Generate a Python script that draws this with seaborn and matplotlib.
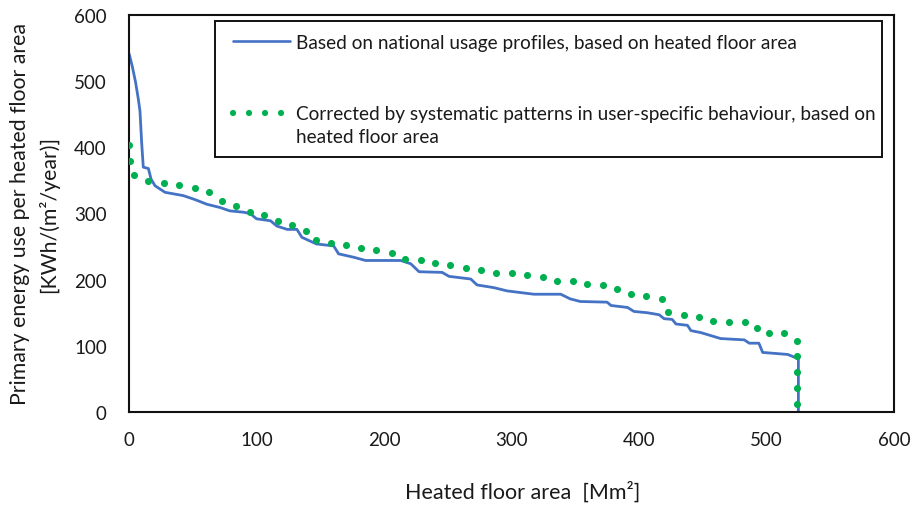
import numpy as np
import matplotlib
matplotlib.use("Agg")
import matplotlib.pyplot as plt
from matplotlib.lines import Line2D
import seaborn as sns

# ---- data ----
blue_x = [0, 2.5, 5.2, 7.3, 8.6, 9.9, 11.2, 15.2, 17.3, 20.4,
          24.3, 28.3, 42.6, 51.8, 61, 71.5, 79, 89.5, 95, 100,
          111, 116, 124, 131.7, 135.6, 147, 160.5, 164.4, 176, 185.5,
          213, 221, 227.5, 245.6, 251, 268, 273, 286, 296.6, 317.6,
          338.6, 346, 354, 375, 378, 391, 396, 406.6, 415.8, 419.7,
          426, 429, 438, 440.7, 448.5, 464, 482.6, 486.5, 494, 497,
          516.6, 523, 525, 525]
blue_y = [542, 523, 498, 473, 455, 408, 370, 368, 352, 342,
          337, 332, 327, 321, 314, 309, 304, 302, 300, 292,
          289, 281, 276, 276, 264, 254, 251, 239, 234, 229,
          229, 224, 212, 211, 205, 201, 192, 188, 183, 178,
          178, 171, 167, 166, 161, 158, 152, 150, 147, 141,
          140, 133, 131, 123, 120, 111, 109, 104, 104, 90,
          87, 82, 80, 0]

green_x = [0, 1.1, 3.8, 15.2, 27.5, 39.6, 51.6, 63, 72.8, 83.8,
           94.8, 105.8, 116.8, 128, 138.5, 146.3, 158.4, 170.4, 182, 194,
           206, 216.2, 228.7, 240.2, 252, 264, 275.7, 288, 300.5, 312,
           324.7, 336, 348, 359.5, 371.6, 383, 393.6, 405.6, 417.7, 423,
           435, 447, 458.4, 470.7, 483, 492.6, 502, 514, 523.7, 524,
           524, 524, 524]
green_y = [403.5, 380, 358.6, 348.6, 346.2, 343, 338.2, 332, 319, 311,
           303, 298, 289, 282, 274, 260, 255, 253, 248, 245,
           240, 231, 230, 225.5, 222, 217, 214, 210.5, 210.5, 207,
           203.6, 198, 198, 193, 192, 186, 179, 175, 171, 150.6,
           146.6, 143, 137.5, 136.5, 135.5, 127, 119.4, 119, 107, 84,
           60, 36.3, 12.6]

x_ticks = [0, 100, 200, 300, 400, 500, 600]
y_ticks = [0, 100, 200, 300, 400, 500, 600]

label_blue = "Based on national usage profiles, based on heated floor area"
label_green = ("Corrected by systematic patterns in user-specific behaviour, based on\n"
               "heated floor area")
x_label = "Heated floor area  [Mm²]"
y_label = "Primary energy use per heated floor area\n[KWh/(m²/year)]"

BLUE = "#4472C4"
GREEN = "#00B050"

# ---- style ----
sns.set_theme(style="white")
plt.rcParams['font.family'] = ['Lato', 'DejaVu Sans']
TXT = "#1a1a1a"

fig = plt.figure(figsize=(9.13, 5.06), dpi=100)
ax = fig.add_axes([129 / 913, 1 - 413 / 506, (894 - 129) / 913, (413 - 16) / 506])

sns.lineplot(x=blue_x, y=blue_y, sort=False, estimator=None, ax=ax,
             color=BLUE, linewidth=2.0, legend=False)
sns.scatterplot(x=green_x, y=green_y, ax=ax, color=GREEN, s=26,
                linewidth=0, legend=False, zorder=3)

ax.set_xlim(0, 600)
ax.set_ylim(0, 600)
ax.set_xticks(x_ticks)
ax.set_yticks(y_ticks)
ax.set_xticklabels([str(v) for v in x_ticks])
ax.set_yticklabels([str(v) for v in y_ticks])

ax.tick_params(axis='x', length=0, pad=14, labelsize=13.5, labelcolor=TXT)
ax.tick_params(axis='y', direction='in', length=5, width=1.2, color='#7f7f7f',
               pad=16, labelsize=13.5, labelcolor=TXT)

for sp in ax.spines.values():
    sp.set_visible(True)
    sp.set_color('#111111')
    sp.set_linewidth(1.5)

ax.set_xlabel(x_label, fontsize=15.5, color=TXT, labelpad=23)
ax.xaxis.label.set_x(0.514)
ax.set_ylabel(y_label, fontsize=15.3, color=TXT, labelpad=11, linespacing=1.45)

# ---- legend ----
FS = 13.7
h_blue = Line2D([], [], color=BLUE, linewidth=1.9)
h_green = Line2D([], [], color=GREEN, linewidth=4.5,
                 linestyle=(0, (0.01, 2.55)), dash_capstyle='round')
x0 = (215 - 129) / 765
x1 = (882 - 129) / 765
ytop = (413 - 22) / 397
leg = ax.legend([h_blue, h_green], [label_blue, label_green],
                loc='upper left', bbox_to_anchor=(x0, ytop - 0.4, x1 - x0, 0.4),
                mode='expand', borderaxespad=0, fontsize=FS,
                handlelength=3.0, handletextpad=0.58, borderpad=0.66,
                labelspacing=2.85, frameon=True, fancybox=False,
                framealpha=1, edgecolor='#111111', labelcolor=TXT)
leg.get_frame().set_linewidth(1.4)
leg.get_texts()[1].set_linespacing(1.42)
# shift handles slightly right, and align the dotted handle with the
# first line of its two-line label
for h in leg.legend_handles:
    h.set_xdata(np.asarray(h.get_xdata()) + 3.6)
gh = leg.legend_handles[1]
gh.set_ydata(np.asarray(gh.get_ydata()) + 9.0)

fig.savefig("out.png", dpi=100, facecolor='white')
